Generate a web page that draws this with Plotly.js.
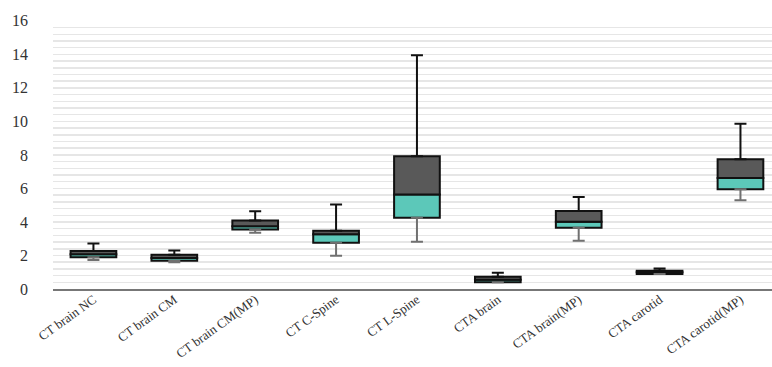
<!DOCTYPE html>
<html>
<head>
<meta charset="utf-8">
<script src="https://cdn.plot.ly/plotly-3.0.1.min.js"></script>
<style>html,body{margin:0;padding:0;background:#fff;}#chart{width:772px;height:367px;}</style>
</head>
<body>
<div id="chart"></div>
<script>
const categories = ["CT brain NC", "CT brain CM", "CT brain CM(MP)", "CT C-Spine", "CT L-Spine", "CTA brain", "CTA brain(MP)", "CTA carotid", "CTA carotid(MP)"];
const minVals = [1.73, 1.60, 3.35, 1.98, 2.82, 0.40, 2.88, 0.89, 5.30];
const q1Vals  = [1.90, 1.68, 3.55, 2.76, 4.25, 0.40, 3.65, 0.89, 5.95];
const medVals = [2.08, 1.85, 3.75, 3.26, 5.64, 0.55, 4.01, 1.00, 6.63];
const q3Vals  = [2.27, 2.04, 4.09, 3.47, 7.92, 0.73, 4.66, 1.09, 7.74];
const maxVals = [2.72, 2.30, 4.64, 5.04, 13.95, 0.97, 5.49, 1.23, 9.86];
const yTicks = [0, 2, 4, 6, 8, 10, 12, 14, 16];

const lowerH = q1Vals.map((q, i) => medVals[i] - q);
const upperH = q3Vals.map((q, i) => q - medVals[i]);
const upWhisk = maxVals.map((m, i) => m - q3Vals[i]);
const lowWhisk = minVals.map((m, i) => q1Vals[i] - m);
const zeros = categories.map(() => 0);

const traces = [
  {type: 'bar', x: categories, y: lowerH, base: q1Vals, width: 0.565,
   marker: {color: '#5cc8b9', line: {color: '#111', width: 2}}, hoverinfo: 'skip'},
  {type: 'bar', x: categories, y: upperH, base: medVals, width: 0.565,
   marker: {color: '#595959', line: {color: '#111', width: 2}}, hoverinfo: 'skip'},
  {type: 'scatter', mode: 'markers', x: categories, y: q3Vals,
   marker: {opacity: 0, size: 1},
   error_y: {type: 'data', symmetric: false, array: upWhisk, arrayminus: zeros, color: '#111', thickness: 2, width: 6}},
  {type: 'scatter', mode: 'markers', x: categories, y: q1Vals,
   marker: {opacity: 0, size: 1},
   error_y: {type: 'data', symmetric: false, array: zeros, arrayminus: lowWhisk, color: '#707070', thickness: 2, width: 6}}
];

const layout = {
  width: 772, height: 367,
  margin: {l: 53, r: 0, t: 20, b: 78},
  paper_bgcolor: '#fff', plot_bgcolor: '#fff',
  showlegend: false,
  barmode: 'overlay',
  font: {family: '"Liberation Serif", "Times New Roman", serif', color: '#333'},
  xaxis: {
    type: 'category', range: [-0.5, 8.39],
    tickangle: -36, tickfont: {size: 13, color: '#333'},
    ticklabelstandoff: -4,
    showgrid: false, showline: true, linecolor: '#777', linewidth: 2,
    ticks: '', zeroline: false
  },
  yaxis: {
    range: [0, 16.05], tickvals: yTicks, ticktext: yTicks.map(String),
    tickfont: {size: 16, color: '#333'},
    showgrid: false, zeroline: false, showline: false, ticks: '',
    ticklabelstandoff: 24,
    minor: {dtick: 0.4, showgrid: true, gridcolor: '#e6e6e6', gridwidth: 1.5, tick0: 0}
  }
};

Plotly.newPlot('chart', traces, layout, {displayModeBar: false, staticPlot: true});
</script>
</body>
</html>
